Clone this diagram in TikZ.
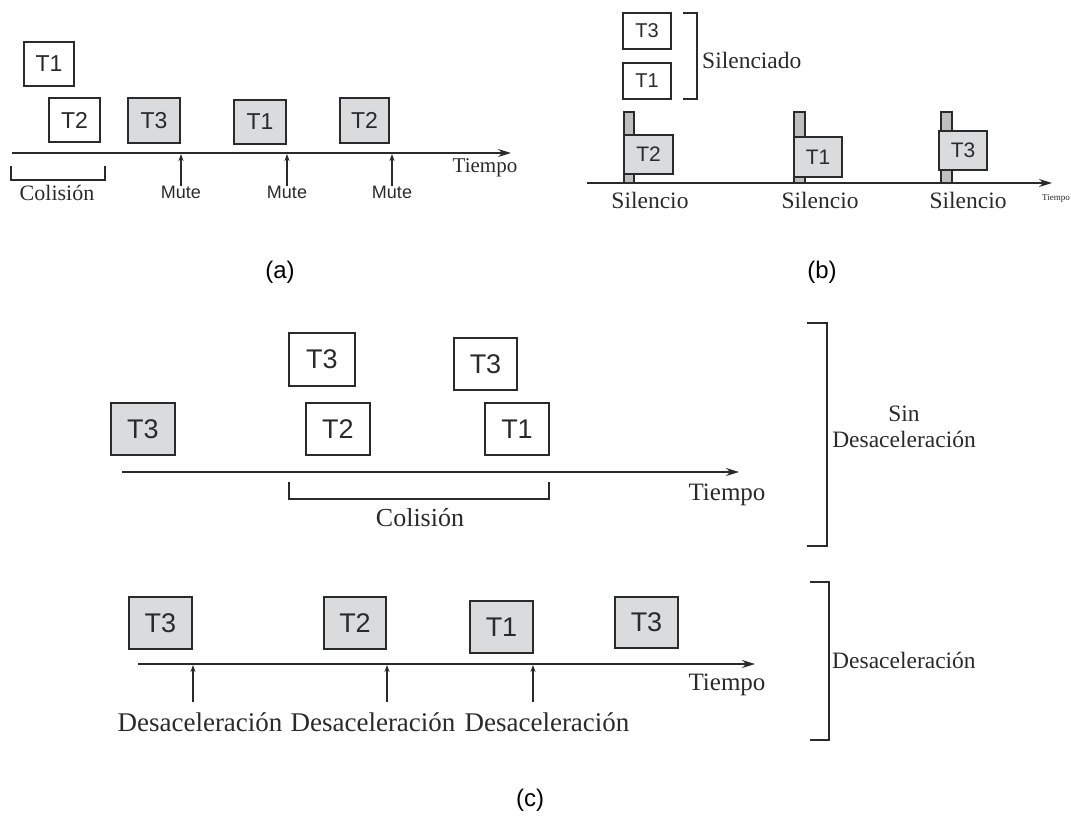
\documentclass[tikz,border=0pt]{standalone}
\usepackage{fontspec}
\setmainfont{Liberation Serif}
\newfontfamily\sansf{Liberation Sans}
\usetikzlibrary{arrows.meta}
\newcommand{\fsz}[1]{\fontsize{#1}{#1}\selectfont}
\definecolor{boxgray}{HTML}{DADBDD}
\definecolor{ink}{HTML}{2A2A2A}
\tikzset{
  tbox/.style={draw=ink, line width=1.4pt, inner sep=0pt, font=\sansf\fsz{#1}, text=ink},
  tbox/.default=23,
  wbox/.style={tbox=#1, fill=white},
  wbox/.default=23,
  gbox/.style={tbox=#1, fill=boxgray},
  gbox/.default=23,
  axis/.style={draw=ink, line width=1.5pt, -{Stealth[length=13pt,width=8pt]}},
  tick/.style={draw=ink, line width=1.3pt, -{Stealth[length=7pt,width=5pt]}},
  brk/.style={draw=ink, line width=1.4pt},
  post/.style={draw=ink, line width=1.2pt, fill=gray!50},
  serif/.style={font=\fsz{#1}, text=ink, inner sep=0pt},
  caption/.style={font=\sansf\fsz{24}, text=black, inner sep=0pt},
}
\begin{document}
\begin{tikzpicture}[x=1pt, y=-1pt]
\useasboundingbox (0,0) rectangle (1071,822);

% ---------------- (a) ----------------
\node[wbox, minimum width=50pt, minimum height=44pt] (a1) at (49,64) {T1};
\node[wbox, minimum width=51pt, minimum height=44pt] (a2) at (74.5,120) {T2};
\node[gbox, minimum width=52pt, minimum height=45pt] (a3) at (154,120.5) {T3};
\node[gbox, minimum width=52pt, minimum height=44pt] (a4) at (260,122) {T1};
\node[gbox, minimum width=49pt, minimum height=45pt] (a5) at (364.5,120.5) {T2};
\coordinate (aS) at (12,153);
\coordinate (aE) at (511,153);
\draw[axis] (aS) -- (aE);
\node[serif=21] (aT) at (485,168) {Tiempo};
% collision bracket
\coordinate (ab1) at (11,166); \coordinate (ab2) at (11,180);
\coordinate (ab3) at (105,180); \coordinate (ab4) at (105,166);
\draw[brk] (ab1) -- (ab2) -- (ab3) -- (ab4);
\node[serif=22] (aC) at (57,193) {Colisión};
% mute markers
\foreach \i/\x in {1/181,2/287,3/392}{
  \node[font=\sansf\fsz{18}, text=ink, inner sep=0pt, anchor=north] (m\i) at (\x,186) {Mute};
  \coordinate (mt\i) at (\x,154);
  \draw[tick] (m\i.north) -- (mt\i);
}
\node[caption] (capa) at (280,272) {(a)};

% ---------------- (b) ----------------
\node[wbox=20, minimum width=48pt, minimum height=36pt] (b3) at (647,31) {T3};
\node[wbox=20, minimum width=48pt, minimum height=36pt] (b1) at (647,81) {T1};
\coordinate (bb1) at (683,13); \coordinate (bb2) at (697,13);
\coordinate (bb3) at (697,99); \coordinate (bb4) at (683,99);
\draw[brk] (bb1) -- (bb2) -- (bb3) -- (bb4);
\node[serif=23.5, anchor=west] (bS) at (702,60) {Silenciado};
% posts with the talking station
\draw[post] (624,112) rectangle (634,183);
\draw[post] (794,112) rectangle (805,183);
\draw[post] (941,112) rectangle (952,183);
\node[gbox=21, minimum width=49pt, minimum height=39pt] (p1) at (648.5,154.5) {T2};
\node[gbox=21, minimum width=48pt, minimum height=40pt] (p2) at (818,157) {T1};
\node[gbox=21, minimum width=48pt, minimum height=39pt] (p3) at (963,150.5) {T3};
\coordinate (bS0) at (587,183);
\coordinate (bE0) at (1052,183);
\draw[axis] (bS0) -- (bE0);
\node[serif=23.5] (s1) at (650,200) {Silencio};
\node[serif=23.5] (s2) at (820,200) {Silencio};
\node[serif=23.5] (s3) at (968,200) {Silencio};
\node[serif=9] (bT) at (1056,198) {Tiempo};
\node[caption] (capb) at (822,272) {(b)};

% ---------------- (c) without slow-down ----------------
\node[gbox=27, minimum width=64pt, minimum height=52pt] (c1) at (143,429) {T3};
\node[wbox=27, minimum width=66pt, minimum height=53pt] (c2) at (322,359.5) {T3};
\node[wbox=27, minimum width=64pt, minimum height=52pt] (c3) at (338,429) {T2};
\node[wbox=27, minimum width=63pt, minimum height=52pt] (c4) at (485.5,364) {T3};
\node[wbox=27, minimum width=64pt, minimum height=52pt] (c5) at (517,429) {T1};
\coordinate (cS) at (122,472);
\coordinate (cE) at (739,472);
\draw[axis] (cS) -- (cE);
\coordinate (cb1) at (289,482); \coordinate (cb2) at (289,499);
\coordinate (cb3) at (549,499); \coordinate (cb4) at (549,482);
\draw[brk] (cb1) -- (cb2) -- (cb3) -- (cb4);
\node[serif=26] (cC) at (420,518) {Colisión};
\node[serif=25] (cT) at (727,495) {Tiempo};
\coordinate (cr1) at (807,323); \coordinate (cr2) at (827,323);
\coordinate (cr3) at (827,546); \coordinate (cr4) at (807,546);
\draw[brk] (cr1) -- (cr2) -- (cr3) -- (cr4);
\node[serif=23.5, align=center] (cL) at (904,427) {Sin\\[2pt]Desaceleración};

% ---------------- (c) with slow-down ----------------
\node[gbox=27, minimum width=63pt, minimum height=52pt] (d1) at (160.5,623) {T3};
\node[gbox=27, minimum width=62pt, minimum height=52pt] (d2) at (355,623) {T2};
\node[gbox=27, minimum width=63pt, minimum height=52pt] (d3) at (501.5,627) {T1};
\node[gbox=27, minimum width=63pt, minimum height=51pt] (d4) at (646.5,622.5) {T3};
\coordinate (dS) at (138,664);
\coordinate (dE) at (755,664);
\draw[axis] (dS) -- (dE);
\foreach \i/\x/\lx in {1/193/200,2/387/373,3/533/547}{
  \coordinate (dt\i) at (\x,665);
  \coordinate (db\i) at (\x,702);
  \draw[tick] (db\i) -- (dt\i);
  \node[serif=27] (dl\i) at (\lx,722) {Desaceleración};
}
\node[serif=25] (dT) at (727,685) {Tiempo};
\coordinate (dr1) at (810,582); \coordinate (dr2) at (829,582);
\coordinate (dr3) at (829,740); \coordinate (dr4) at (810,740);
\draw[brk] (dr1) -- (dr2) -- (dr3) -- (dr4);
\node[serif=23.5, anchor=west] (dL) at (832,660) {Desaceleración};

\node[caption] (capc) at (530,800) {(c)};
\end{tikzpicture}
\end{document}
